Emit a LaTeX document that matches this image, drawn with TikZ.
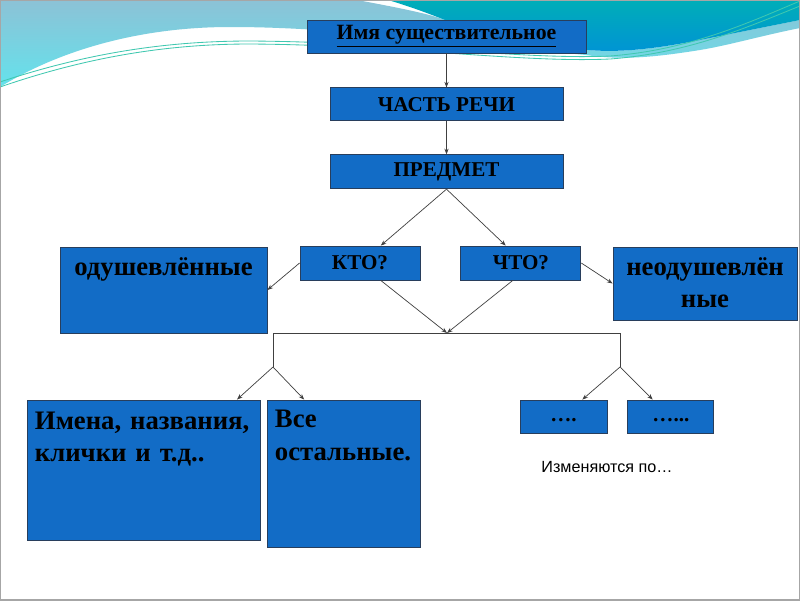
\documentclass[tikz,border=0pt]{standalone}
\usepackage{fontspec}
\setmainfont{Liberation Serif}
\newfontfamily\izmfont{Liberation Sans}
\usepackage{xcolor}
\usepackage{tikz}
\usetikzlibrary{shapes,arrows.meta,positioning}
\definecolor{boxblue}{RGB}{18,108,198}
\definecolor{boxline}{RGB}{40,62,92}
\definecolor{wavetop}{RGB}{140,194,214}
\definecolor{wavecyan}{RGB}{100,226,236}
\definecolor{tealtop}{RGB}{0,174,184}
\definecolor{tealbot}{RGB}{0,146,214}
\definecolor{thinline}{RGB}{64,200,176}

\begin{document}
\begin{tikzpicture}[x=0.025cm, y=-0.025cm,
    box/.style={draw=boxline, rectangle, fill=boxblue, inner sep=0pt, line width=0.6pt},
    small/.style={box, font=\fontsize{15}{17}\selectfont\bfseries},
    big/.style={box, font=\fontsize{19}{23.4}\selectfont\bfseries, inner ysep=0.125cm},
    arrow/.style={-{Stealth[length=4pt,width=3pt]}, draw=black!75, line width=0.5pt},
    link/.style={draw=black!75, line width=0.5pt},
    node distance=0.85cm
]
\useasboundingbox (0,0) rectangle (800,600);
\fill[white] (0,0) rectangle (800,600);

\shade[top color=wavetop, bottom color=wavecyan] (0,0) -- (357,0) .. controls (400,8) and (430,14) .. (445,20) -- (560,45)
  .. controls (600,56) and (650,50) .. (700,40) .. controls (740,32) and (770,26) .. (800,20) -- (800,28)
  .. controls (760,36) and (730,45) .. (700,50) .. controls (650,58) and (620,60) .. (586,55) -- (320,30)
  .. controls (300,29) and (270,27) .. (230,27) .. controls (140,27) and (60,50) .. (0,87) -- cycle;
\shade[top color=tealtop, bottom color=tealbot] (388,0) -- (800,0) -- (800,20) .. controls (770,26) and (740,32) .. (700,40)
  .. controls (650,50) and (600,56) .. (560,45) -- (445,20) .. controls (425,12) and (405,5) .. (388,0) -- cycle;
\draw[thinline, line width=0.6pt] (0,82) .. controls (90,52) and (170,41) .. (250,41) .. controls (400,42) and (520,60) .. (610,56) .. controls (690,50) and (750,22) .. (800,1);
\draw[thinline, line width=0.6pt] (0,87) .. controls (90,56) and (170,44) .. (250,44) .. controls (400,45) and (520,63) .. (610,59) .. controls (690,53) and (750,26) .. (800,6);
\draw[gray!70, line width=2pt] (0,0) rectangle (800,600);

\node[box, minimum width=6.975cm, minimum height=0.825cm, font=\fontsize{15.5}{17}\selectfont\bfseries] (imya) at (446.5,36.5) {\underline{Имя существительное}};
\node[small, minimum width=5.825cm, minimum height=0.825cm, below=0.85cm of imya] (chast) {ЧАСТЬ РЕЧИ};
\node[small, minimum width=5.825cm, minimum height=0.85cm, below=0.825cm of chast] (predmet) {ПРЕДМЕТ};

\node[small, minimum width=3cm, minimum height=0.85cm] (kto) at (360,263) {КТО?};
\node[small, minimum width=3cm, minimum height=0.85cm, right=1cm of kto] (chto) {ЧТО?};

\node[big, minimum width=5.175cm, text height=0.575cm, text depth=1.325cm] (odush) at (163.5,290) {одушевлённые};
\node[big, inner xsep=0.1cm, text width=4.4cm, align=center, text height=0.575cm, text depth=1cm] (neodush) at (705,283.5) {неодушевлён\\ные};

\node[big, inner xsep=0.2cm, text width=5.425cm, align=left, text height=0.6cm, text depth=2.65cm] (imena) at (143.5,470) {Имена, названия,\\клички и т.д..};
\node[big, inner xsep=0.2cm, text width=3.425cm, align=left, text height=0.575cm, text depth=2.85cm] (vse) at (343.5,473.5) {Все\\остальные.};

\node[small, minimum width=2.175cm, minimum height=0.825cm, text height=1.5ex, text depth=0pt] (dots1) at (563.5,416.5) {….};
\node[small, minimum width=2.15cm, minimum height=0.825cm, text height=1.5ex, text depth=0pt, right=0.5cm of dots1] (dots2) {…...};

\node[font=\izmfont\fontsize{11.5}{13}\selectfont] (izm) at (607,467) {Изменяются по…};

\coordinate (uzel) at (447,333);
\coordinate (levy) at (273,367);
\coordinate (pravy) at (620,367);

\draw[arrow] (imya) -- (chast);
\draw[arrow] (chast) -- (predmet);
\draw[arrow] (predmet.south) -- (kto.40);
\draw[arrow] (predmet.south) -- (chto.131);
\draw[arrow] (kto.west) -- (odush.east);
\draw[arrow] (chto.east) -- (neodush.west);
\draw[arrow] (kto.-40) -- (uzel);
\draw[arrow] (chto.245) -- (uzel);
\draw[link] (levy) |- (uzel) -| (pravy);
\draw[arrow] (levy) -- (imena.37);
\draw[arrow] (levy) -- (vse.118);
\draw[arrow] (pravy) -- (dots1.42);
\draw[arrow] (pravy) -- (dots2.137);

\end{tikzpicture}
\end{document}
